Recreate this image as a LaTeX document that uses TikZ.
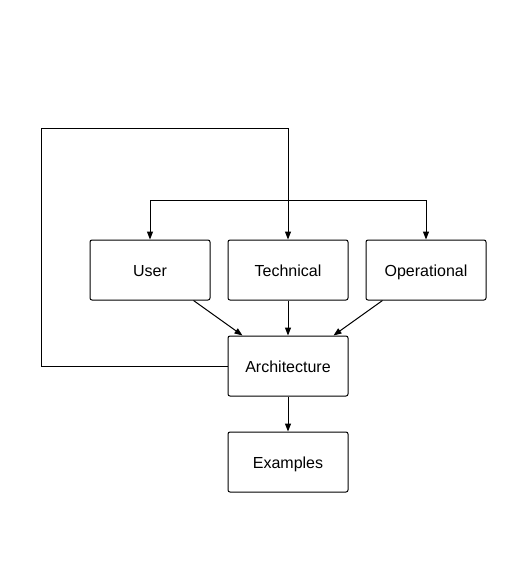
\documentclass[tikz,border=0pt]{standalone}
\usepackage{fontspec}
\setmainfont{Liberation Sans}
\usetikzlibrary{arrows.meta,calc}
\begin{document}
\begin{tikzpicture}[x=0.75pt,y=-0.75pt,
  box/.style={draw,line width=0.75pt,rounded corners=1.5pt,minimum width=90pt,minimum height=45pt,inner sep=0pt,text height=10.1pt,text depth=0pt,font=\fontsize{12pt}{14pt}\selectfont},
  conn/.style={line width=0.75pt},
  arr/.style={conn,-{Triangle[length=6pt,width=4.5pt]}}]
\useasboundingbox (0,0) rectangle (526,565);
\node[box] (user) at (150,270) {User};
\node[box] (tech) at (288,270) {Technical};
\node[box] (oper) at (426,270) {Operational};
\node[box] (arch) at (288,366) {Architecture};
\node[box] (exam) at (288,462) {Examples};
\coordinate (bl) at (41,366);
\coordinate (tl) at (41,128);
\coordinate (tr) at (288,128);
\coordinate (br) at (288,200);
\coordinate (ul) at (150,200);
\coordinate (ur) at (426,200);
\draw[arr] (arch.west) -- (bl) -- (tl) -- (tr) -- (tech.north);
\draw[arr] (arch.west) -- (bl) -- (tl) -- (tr) -- (br) -- (ul) -- (user.north);
\draw[arr] (arch.west) -- (bl) -- (tl) -- (tr) -- (br) -- (ur) -- (oper.north);
\draw[arr] ($(user.south east)+(-17,0)$) -- ($(arch.north west)+(15,0)$);
\draw[arr] (tech.south) -- (arch.north);
\draw[arr] ($(oper.south west)+(17,0)$) -- ($(arch.north east)+(-15,0)$);
\draw[arr] (arch.south) -- (exam.north);
\end{tikzpicture}
\end{document}
